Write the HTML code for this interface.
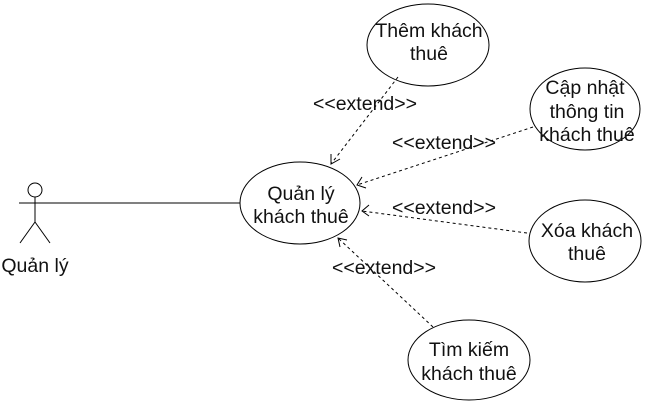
<!DOCTYPE html>
<html><head><meta charset="utf-8"><style>
html,body{margin:0;padding:0;background:#fff;}
svg{display:block;}
text{font-family:"Liberation Sans",sans-serif;font-size:19.5px;fill:#111;}
</style></head><body>
<svg width="650" height="401" viewBox="0 0 650 401">
<g fill="#fff" stroke="#000" stroke-width="1">
<ellipse cx="428" cy="45" rx="61" ry="41"/>
<ellipse cx="585" cy="109" rx="55" ry="41"/>
<ellipse cx="300" cy="203" rx="60" ry="41"/>
<ellipse cx="585" cy="241" rx="56" ry="41"/>
<ellipse cx="469" cy="360" rx="61" ry="40"/>
</g>
<g stroke="#000" fill="none">
<circle cx="35" cy="190" r="7"/>
<line x1="35" y1="197" x2="35" y2="222"/>
<line x1="19" y1="203" x2="240" y2="203"/>
<line x1="35" y1="222" x2="20" y2="243"/>
<line x1="35" y1="222" x2="50" y2="243"/>
</g>
<g stroke="#000" fill="none" stroke-dasharray="3,3">
<line x1="398" y1="77" x2="331" y2="164"/>
<line x1="533" y1="127" x2="357" y2="185"/>
<line x1="527" y1="233" x2="362" y2="211"/>
<line x1="433" y1="327" x2="338" y2="238"/>
</g>
<g stroke="#000" fill="none">
<polyline points="331,154 331,164 340,159"/>
<polyline points="362,177 357,185 366,188"/>
<polyline points="369,205 362,211 369,216"/>
<polyline points="340,247 338,238 347,240"/>
</g>
<g text-anchor="middle">
<text x="429" y="37">Thêm khách</text><text x="429" y="60">thuê</text>
<text x="585" y="94">Cập nhật</text><text x="587" y="118">thông tin</text><text x="587" y="141">khách thuê</text>
<text x="301" y="200">Quản lý</text><text x="301" y="223">khách thuê</text>
<text x="587" y="237">Xóa khách</text><text x="587" y="260">thuê</text>
<text x="469" y="356">Tìm kiếm</text><text x="469" y="380">khách thuê</text>
<text x="365" y="110">&lt;&lt;extend&gt;&gt;</text>
<text x="444" y="149">&lt;&lt;extend&gt;&gt;</text>
<text x="444" y="214">&lt;&lt;extend&gt;&gt;</text>
<text x="384" y="274">&lt;&lt;extend&gt;&gt;</text>
<text x="35" y="272">Quản lý</text>
</g>
</svg>
</body></html>
